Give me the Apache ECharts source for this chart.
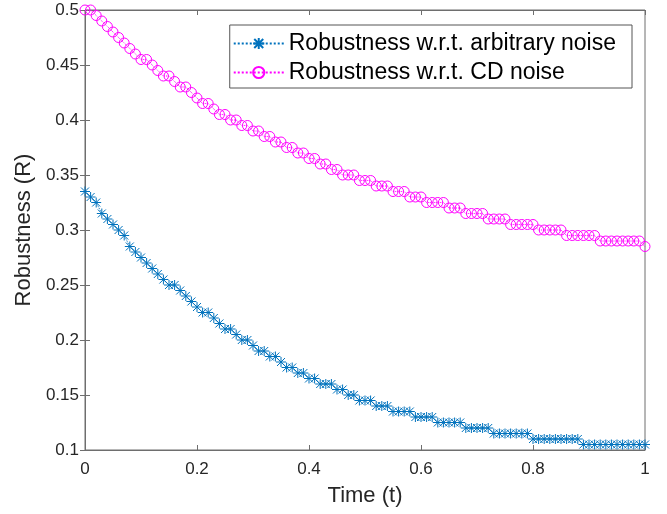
<!DOCTYPE html>
<html>
<head>
<meta charset="utf-8">
<script src="https://cdn.jsdelivr.net/npm/echarts@6/dist/echarts.min.js"></script>
<style>
  html, body { margin: 0; padding: 0; background: #fff; }
  #chart { width: 667px; height: 514px; }
</style>
</head>
<body>
<div id="chart"></div>
<script>
const time = [
  0, 0.01, 0.02, 0.03, 0.04, 0.05, 0.06, 0.07, 0.08, 0.09,
  0.10, 0.11, 0.12, 0.13, 0.14, 0.15, 0.16, 0.17, 0.18, 0.19,
  0.20, 0.21, 0.22, 0.23, 0.24, 0.25, 0.26, 0.27, 0.28, 0.29,
  0.30, 0.31, 0.32, 0.33, 0.34, 0.35, 0.36, 0.37, 0.38, 0.39,
  0.40, 0.41, 0.42, 0.43, 0.44, 0.45, 0.46, 0.47, 0.48, 0.49,
  0.50, 0.51, 0.52, 0.53, 0.54, 0.55, 0.56, 0.57, 0.58, 0.59,
  0.60, 0.61, 0.62, 0.63, 0.64, 0.65, 0.66, 0.67, 0.68, 0.69,
  0.70, 0.71, 0.72, 0.73, 0.74, 0.75, 0.76, 0.77, 0.78, 0.79,
  0.80, 0.81, 0.82, 0.83, 0.84, 0.85, 0.86, 0.87, 0.88, 0.89,
  0.90, 0.91, 0.92, 0.93, 0.94, 0.95, 0.96, 0.97, 0.98, 0.99,
  1.00
];

const arbitraryNoise = [
  0.335, 0.33, 0.325, 0.315, 0.31, 0.305, 0.30, 0.295, 0.285, 0.28,
  0.275, 0.27, 0.265, 0.26, 0.255, 0.25, 0.25, 0.245, 0.24, 0.235,
  0.23, 0.225, 0.225, 0.22, 0.215, 0.21, 0.21, 0.205, 0.20, 0.20,
  0.195, 0.19, 0.19, 0.185, 0.185, 0.18, 0.175, 0.175, 0.17, 0.17,
  0.165, 0.165, 0.16, 0.16, 0.16, 0.155, 0.155, 0.15, 0.15, 0.145,
  0.145, 0.145, 0.14, 0.14, 0.14, 0.135, 0.135, 0.135, 0.135, 0.13,
  0.13, 0.13, 0.13, 0.125, 0.125, 0.125, 0.125, 0.125, 0.12, 0.12,
  0.12, 0.12, 0.12, 0.115, 0.115, 0.115, 0.115, 0.115, 0.115, 0.115,
  0.11, 0.11, 0.11, 0.11, 0.11, 0.11, 0.11, 0.11, 0.11, 0.105,
  0.105, 0.105, 0.105, 0.105, 0.105, 0.105, 0.105, 0.105, 0.105, 0.105,
  0.105
];

const cdNoise = [
  0.50, 0.50, 0.495, 0.49, 0.485, 0.48, 0.475, 0.47, 0.465, 0.46,
  0.455, 0.455, 0.45, 0.445, 0.44, 0.44, 0.435, 0.43, 0.43, 0.425,
  0.42, 0.415, 0.415, 0.41, 0.405, 0.405, 0.40, 0.40, 0.395, 0.395,
  0.39, 0.39, 0.385, 0.385, 0.38, 0.38, 0.375, 0.375, 0.37, 0.37,
  0.365, 0.365, 0.36, 0.36, 0.355, 0.355, 0.35, 0.35, 0.35, 0.345,
  0.345, 0.345, 0.34, 0.34, 0.34, 0.335, 0.335, 0.335, 0.33, 0.33,
  0.33, 0.325, 0.325, 0.325, 0.325, 0.32, 0.32, 0.32, 0.315, 0.315,
  0.315, 0.315, 0.31, 0.31, 0.31, 0.31, 0.305, 0.305, 0.305, 0.305,
  0.305, 0.30, 0.30, 0.30, 0.30, 0.30, 0.295, 0.295, 0.295, 0.295,
  0.295, 0.295, 0.29, 0.29, 0.29, 0.29, 0.29, 0.29, 0.29, 0.29,
  0.285
];

const seriesNames = ['Robustness w.r.t. arbitrary noise', 'Robustness w.r.t. CD noise'];
const xTicks = [0, 0.2, 0.4, 0.6, 0.8, 1];
const yTicks = [0.1, 0.15, 0.2, 0.25, 0.3, 0.35, 0.4, 0.45, 0.5];

const FONT = 'Liberation Sans, Arial, Helvetica, sans-serif';
const AXIS_COLOR = '#6e6e6e';
const TEXT_COLOR = '#262626';
const STAR = 'path://M0,-1L0,1M-0.8,-0.8L0.8,0.8M-0.8,0.8L0.8,-0.8M-1,0L1,0';

const chart = echarts.init(document.getElementById('chart'), null, { renderer: 'canvas' });

function pair(xs, ys) { return xs.map((x, i) => [x, ys[i]]); }

const baseAxisLine = { show: true, lineStyle: { color: AXIS_COLOR, width: 1 } };
const tickInside = { show: true, inside: true, length: 5, lineStyle: { color: AXIS_COLOR, width: 1 } };

chart.setOption({
  animation: false,
  backgroundColor: '#ffffff',
  grid: { left: 85, right: 22, top: 10, bottom: 64, show: true, borderColor: AXIS_COLOR, borderWidth: 1 },
  legend: {
    orient: 'vertical',
    right: 35,
    top: 25,
    data: seriesNames,
    itemWidth: 50,
    itemHeight: 14,
    itemGap: 6,
    padding: [7, 16, 4, 3],
    borderColor: '#555',
    borderWidth: 1,
    backgroundColor: '#fff',
    textStyle: { fontFamily: FONT, fontSize: 23, color: '#000' }
  },
  xAxis: [
    {
      type: 'value', min: 0, max: 1, interval: 0.2, position: 'bottom',
      name: 'Time (t)', nameLocation: 'middle', nameGap: 35,
      nameTextStyle: { fontFamily: FONT, fontSize: 22, color: TEXT_COLOR },
      axisLine: baseAxisLine, axisTick: tickInside,
      axisLabel: { fontFamily: FONT, fontSize: 17, color: TEXT_COLOR, margin: 11,
        formatter: v => String(+v.toFixed(2)) },
      splitLine: { show: false }
    },
    {
      type: 'value', min: 0, max: 1, interval: 0.2, position: 'top',
      axisLine: baseAxisLine, axisTick: tickInside, axisLabel: { show: false },
      splitLine: { show: false }
    }
  ],
  yAxis: [
    {
      type: 'value', min: 0.1, max: 0.5, interval: 0.05, position: 'left',
      name: 'Robustness (R)', nameLocation: 'middle', nameGap: 41,
      nameTextStyle: { fontFamily: FONT, fontSize: 22, color: TEXT_COLOR },
      axisLine: baseAxisLine, axisTick: tickInside,
      axisLabel: { fontFamily: FONT, fontSize: 17, color: TEXT_COLOR, margin: 6,
        formatter: v => String(+v.toFixed(2)) },
      splitLine: { show: false }
    },
    {
      type: 'value', min: 0.1, max: 0.5, interval: 0.05, position: 'right',
      axisLine: baseAxisLine, axisTick: tickInside, axisLabel: { show: false },
      splitLine: { show: false }
    }
  ],
  series: [
    {
      name: seriesNames[0],
      type: 'line',
      data: pair(time, arbitraryNoise),
      symbol: STAR,
      symbolSize: 10,
      showAllSymbol: true,
      itemStyle: { color: 'rgba(0,0,0,0)', borderColor: '#0072BD', borderWidth: 1 },
      lineStyle: { color: '#0072BD', width: 1, type: 'dotted' },
      clip: false
    },
    {
      name: seriesNames[1],
      type: 'line',
      data: pair(time, cdNoise),
      symbol: 'circle',
      symbolSize: 10,
      showAllSymbol: true,
      itemStyle: { color: 'rgba(0,0,0,0)', borderColor: '#FF00FF', borderWidth: 1 },
      lineStyle: { color: '#FF00FF', width: 1, type: 'dotted' },
      clip: false
    }
  ]
});
</script>
</body>
</html>
